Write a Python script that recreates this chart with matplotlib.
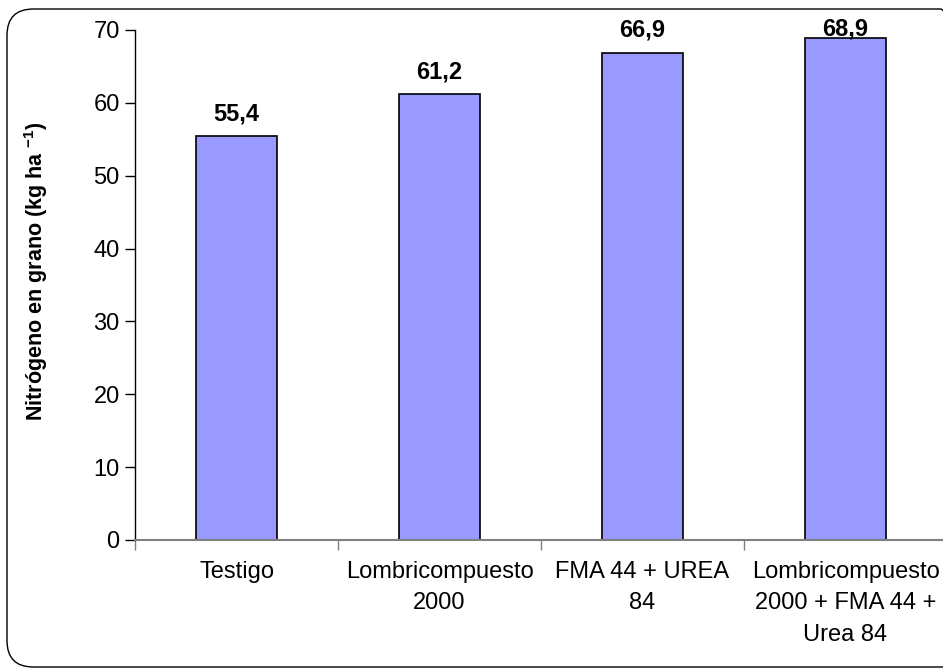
import numpy as np
import matplotlib.pyplot as plt
from matplotlib.patches import FancyBboxPatch

# tratamientos y nitrógeno en grano (kg/ha)
tratamientos = ['Testigo', 'Lombricompuesto\n2000', 'FMA 44 + UREA\n84',
                'Lombricompuesto\n2000 + FMA 44 +\nUrea 84']
nitrogeno = [55.4, 61.2, 66.9, 68.9]
etiquetas = ['55,4', '61,2', '66,9', '68,9']

plt.rcParams['font.family'] = ['Liberation Sans', 'DejaVu Sans']
plt.rcParams['mathtext.fontset'] = 'custom'
plt.rcParams['mathtext.bf'] = 'Liberation Sans:bold'

fig = plt.figure(figsize=(9.43, 6.68), dpi=100)
ax = fig.add_axes([135/943, 1 - 540/668, 812/943, 510/668])

# marco redondeado alrededor del grafico
marco = FancyBboxPatch((7/943, 1/668), 960/943, 658/668,
                       boxstyle='round,pad=0,rounding_size=0.028',
                       transform=fig.transFigure, fill=False,
                       edgecolor='black', linewidth=1.0, mutation_aspect=943/668)
fig.patches.append(marco)

x = np.arange(len(tratamientos))
ax.bar(x, nitrogeno, width=0.4, color='#9999FF', edgecolor='black', linewidth=1.2)

# valores sobre las barras (el ultimo queda al tope del area)
for xi, v, t in zip(x, nitrogeno, etiquetas):
    ax.text(xi, min(v + 2.2, 69.3), t, ha='center', va='baseline',
            fontsize=17, fontweight='bold', clip_on=False)

ax.set_xlim(-0.5, 3.5)
ax.set_ylim(0, 70)
ax.set_yticks(range(0, 71, 10))
ax.tick_params(axis='y', labelsize=17, length=7, width=1, direction='out', pad=4)

ax.set_xticks(np.arange(-0.5, 4, 1))
ax.set_xticklabels([])
ax.tick_params(axis='x', which='major', length=7, width=1, color='#808080')
ax.set_xticks(x, minor=True)
ax.set_xticklabels(tratamientos, minor=True, fontsize=17, linespacing=1.55)
ax.tick_params(axis='x', which='minor', length=0, pad=15)

ax.spines['top'].set_visible(False)
ax.spines['right'].set_visible(False)
ax.spines['bottom'].set_color('#808080')
ax.spines['bottom'].set_linewidth(1.5)
ax.spines['left'].set_linewidth(1.0)

ax.set_ylabel('Nitrógeno en grano (kg ha $^{\\mathbf{-1}}$)', fontsize=15.5,
              fontweight='bold')
ax.yaxis.set_label_coords(-0.105, 0.527)

fig.savefig('out.png', dpi=100)
